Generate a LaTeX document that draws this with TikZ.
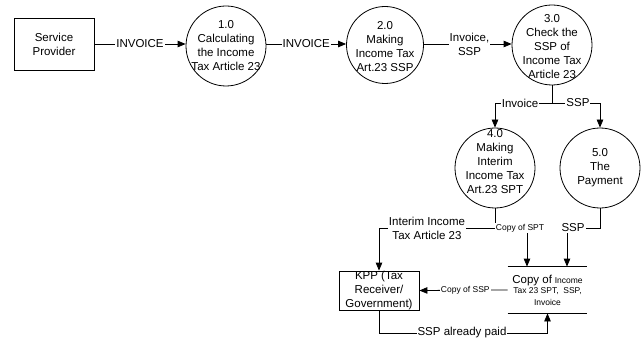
\documentclass[tikz,border=0pt]{standalone}
\usepackage{fontspec}
\setmainfont{Liberation Sans}
\usetikzlibrary{arrows.meta}
\newcommand{\bigtxt}{\fontsize{11.5}{14}\selectfont}
\newcommand{\smalltxt}{\fontsize{8.5}{12}\selectfont}
\begin{document}
\begin{tikzpicture}[x=1pt,y=-1pt,line width=0.8pt,
  proc/.style={circle,draw,minimum size=80pt,inner sep=0pt},
  ptext/.style={align=center,font=\bigtxt,inner sep=0pt},
  entity/.style={draw,rectangle,minimum width=80pt,inner sep=0pt},
  flow/.style={-{Triangle[length=8pt,width=6.5pt]}},
  lbl/.style={fill=white,inner sep=1pt,align=center,font=\bigtxt},
  slbl/.style={fill=white,inner sep=1pt,align=center,font=\smalltxt}]
\useasboundingbox (0,0) rectangle (644,339);

% external entities
\node[entity,minimum height=52pt,align=center,font=\bigtxt] (sp) at (54,44) {Service\\Provider};
\node[entity,minimum height=39pt,
  label={[ptext]center:KPP (Tax\\Receiver/\\Government)}] (kpp) at (379,290.5) {};

% processes
\node[proc,label={[ptext]center:1.0\\Calculating\\the Income\\Tax Article 23}] (p1) at (226,46) {};
\node[proc,minimum size=77pt,label={[ptext,yshift=-2pt]center:2.0\\Making\\Income Tax\\Art.23 SSP}] (p2) at (385,45) {};
\node[proc,label={[ptext,yshift=-2pt]center:3.0\\Check the\\SSP of\\Income Tax\\Article 23}] (p3) at (552,45) {};
\node[proc,label={[ptext,yshift=6pt]center:4.0\\Making\\Interim\\Income Tax\\Art.23 SPT}] (p4) at (495,168) {};
\node[proc,label={[ptext]center:5.0\\The\\Payment}] (p5) at (600,168) {};

% data store
\node[minimum width=79pt,minimum height=46pt,inner sep=0pt,align=center] (store) at (547.5,290)
  {{\bigtxt Copy of} {\smalltxt Income}\\[-2pt]{\smalltxt Tax 23 SPT,\ \ SSP,}\\{\smalltxt Invoice}};
\draw (store.north west) -- (store.north east);
\draw (store.south west) -- (store.south east);

% top row flows
\draw[flow] (sp.east) -- (sp.east -| p1.west) node[lbl,midway] {INVOICE};
\draw[flow] (p1.east |- 0,44) -- (p2.west |- 0,44) node[lbl,midway] {INVOICE};
\draw[flow] (p2.east |- 0,44) -- (p3.west |- 0,44) node[lbl,pos=0.52] {Invoice,\\SSP};

% split below process 3.0
\coordinate (br) at (552,103);
\draw (p3.south) -- (br);
\draw[flow] (br) -| (p4.north) node[lbl,pos=0.28] {Invoice};
\draw[flow] (br) -| (p5.north) node[lbl,pos=0.27] {SSP};

% flows towards the store and the tax office
\coordinate (j4) at (495,228);
\coordinate (j5) at (600,228);
\coordinate (j6) at (379,333);
\draw[flow] (p4.south) -- (j4) -| (kpp.north);
\node[lbl] at (427,228) {Interim Income\\Tax Article 23};
\draw[flow] (j4) -| ([xshift=-20.5pt]store.north);
\node[slbl] at (520,228) {Copy of SPT};
\draw[flow] (p5.south) -- (j5) -| ([xshift=19.5pt]store.north);
\node[lbl] at (573,228) {SSP};
\draw[flow] (store.west) -- (kpp.east) node[slbl,pos=0.48] {Copy of SSP};
\draw[flow] (kpp.south) -- (j6) -| (store.south);
\node[lbl] at (462,333) {SSP already paid};
\end{tikzpicture}
\end{document}
